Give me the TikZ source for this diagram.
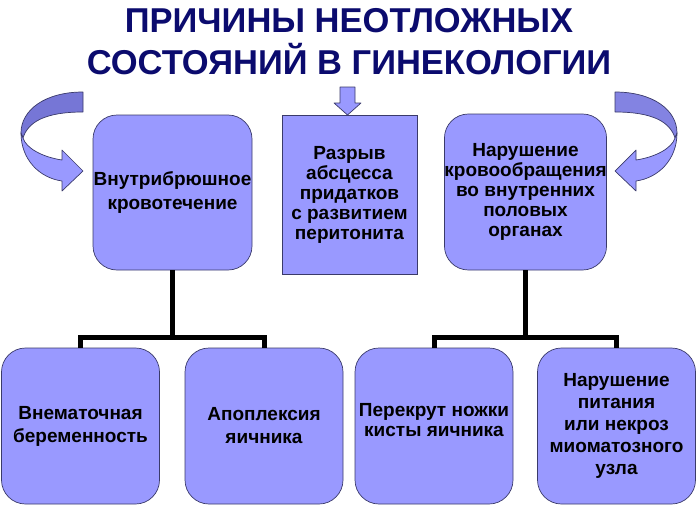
\documentclass[tikz,border=0pt]{standalone}
\usepackage{fontspec}
\setmainfont{Liberation Sans}
\definecolor{boxfill}{HTML}{9999FF}
\definecolor{boxline}{HTML}{3A3A6A}
\definecolor{titleblue}{HTML}{0B0B6E}
\definecolor{arrowdark}{HTML}{7676D6}
\definecolor{arrowmid}{HTML}{8383E2}
\tikzset{
  box/.style={draw=boxline, line width=0.7pt, fill=boxfill, inner sep=0pt, align=center,
    minimum width=158pt, minimum height=156pt},
  lead/.style={font=\bfseries\fontsize{19}{#1}\selectfont},
  rbox/.style={box, rounded corners=24pt},
  conn/.style={line width=5pt, black},
  arrowpart/.style={draw=boxline, line width=0.7pt, line join=round},
  title/.style={align=center, text=titleblue, inner sep=0pt,
    font=\bfseries\fontsize{34.5}{42}\selectfont}
}
\begin{document}
\begin{tikzpicture}[x=1pt, y=-1pt]
\useasboundingbox (0,0) rectangle (700,511);

% title
\node[title, anchor=north] (t) at (349,8.5) {ПРИЧИНЫ НЕОТЛОЖНЫХ\\СОСТОЯНИЙ В ГИНЕКОЛОГИИ};

% top row
\node[rbox, lead=24, minimum width=159pt, minimum height=155pt] (b1) at (172.5,192.5) {Внутрибрюшное\\кровотечение};
\node[box, lead=20, minimum width=135pt, minimum height=159pt] (b2) at (349.5,194.5) {Разрыв\\абсцесса\\придатков\\с развитием\\перитонита};
\node[rbox, lead=20, minimum width=159pt, minimum height=156pt] (b3) at (525.5,192) {Нарушение\\кровообращения\\во внутренних\\половых\\органах};

% bottom row
\node[rbox, lead=23] (b4) at (80.5,426) {Внематочная\\беременность};
\node[rbox, lead=23] (b5) at (264,426) {Апоплексия\\яичника};
\node[rbox, lead=20] (b6) at (434,426) {Перекрут ножки\\кисты яичника\\[-8pt]\mbox{}};
\node[rbox, lead=22] (b7) at (616.5,426) {Нарушение\\питания\\или некроз\\миоматозного\\узла};

% connectors
\coordinate (j1) at (172.5,337);
\coordinate (j2) at (525.5,337);
\draw[conn] (b1.south) -- (j1);
\draw[conn] (b4.north) |- (j1) -| (b5.north);
\draw[conn] (b3.south) -- (j2);
\draw[conn] (b6.north) |- (j2) -| (b7.north);

% small arrow into b2
\draw[arrowpart, fill=boxfill] (340,87) -- (355,87) -- (355,103) -- (361,103) -- (347.5,115) -- (334,103) -- (340,103) -- cycle;

% left curved arrow
\draw[arrowpart, fill=arrowdark] (83,92) .. controls (45,92) and (21,110) .. (21,133)
   -- (23,138) .. controls (28,122) and (45,112) .. (83,112) -- cycle;
\draw[arrowpart, fill=boxfill] (21,133) .. controls (21,160) and (40,178) .. (62,181)
   -- (62,191) -- (83,171) -- (62,150) -- (62,160)
   .. controls (42,157) and (26,148) .. (23,138) -- cycle;

% right curved arrow (mirror)
\begin{scope}[xshift=698pt, xscale=-1]
\draw[arrowpart, fill=arrowmid] (83,92) .. controls (45,92) and (21,110) .. (21,133)
   -- (23,138) .. controls (28,122) and (45,112) .. (83,112) -- cycle;
\draw[arrowpart, fill=boxfill] (21,133) .. controls (21,160) and (40,178) .. (62,181)
   -- (62,191) -- (83,171) -- (62,150) -- (62,160)
   .. controls (42,157) and (26,148) .. (23,138) -- cycle;
\end{scope}
\end{tikzpicture}
\end{document}
